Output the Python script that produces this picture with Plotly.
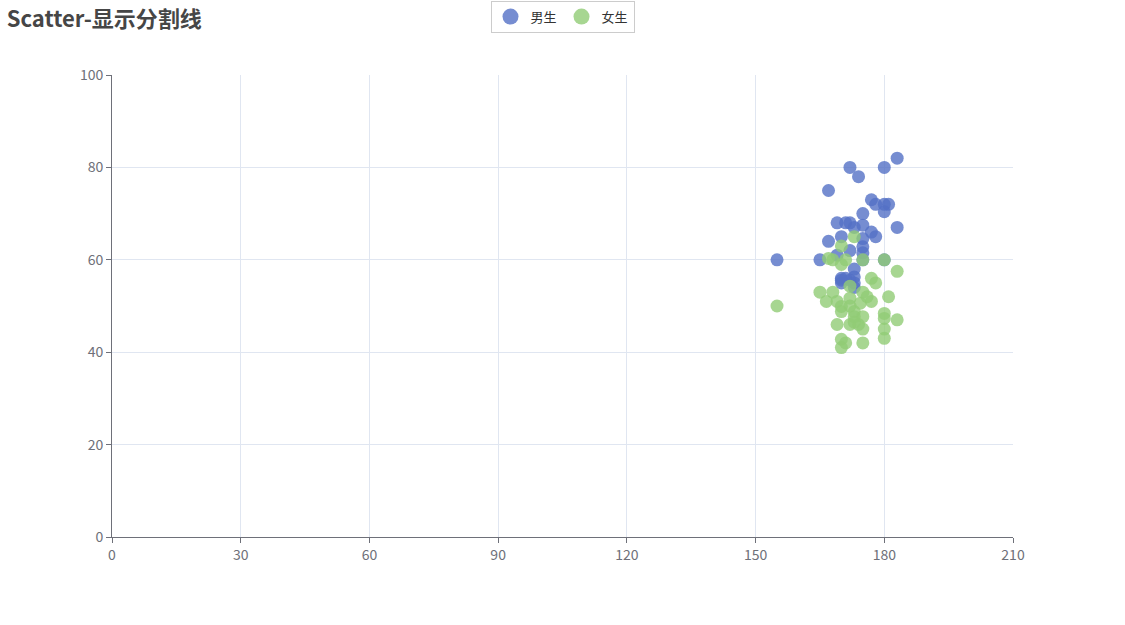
import plotly.graph_objects as go

title_text = "Scatter-显示分割线"
series_names = ["男生", "女生"]
series_colors = ["#5470c6", "#91cc75"]

male_height = [155, 165, 167, 167, 169, 171, 172, 172, 174, 180, 183, 175, 177, 178, 180, 181, 180,
               173, 175, 183, 177, 178, 170, 175, 175, 175, 172, 173, 173, 170, 172, 170, 173, 175, 180,
               169, 171, 173, 170]
male_weight = [60, 60, 75, 64, 68, 68, 68, 80, 78, 80, 82, 70, 73, 72, 72, 72, 70.4,
               67, 67.5, 67, 66, 65, 65, 64.6, 62.8, 61.5, 62, 58, 56.3, 55.6, 55.6, 55, 54, 60, 60,
               61, 56, 55, 56]

female_height = [155, 183, 165, 168, 166.5, 169, 177, 178, 181, 177, 180, 180, 180, 180, 183, 169,
                 170, 171, 170, 175, 175, 172, 174, 172, 175, 172, 170, 170, 173, 173, 175, 174.4,
                 168, 167, 171, 170, 170, 173, 180, 175, 172, 173, 176]
female_weight = [50, 57.5, 53, 53, 51, 51, 56, 55, 52, 51, 48.4, 47.3, 45, 43, 47, 46,
                 42.8, 42, 41, 42, 45, 46, 46, 54.3, 53, 51.7, 48.8, 49.9, 48.8, 47.7, 47.7, 50.6,
                 60, 60.3, 60, 63, 59, 65, 60, 60, 50, 46.5, 52]

x_ticks = [0, 30, 60, 90, 120, 150, 180, 210]
y_ticks = [0, 20, 40, 60, 80, 100]

fig = go.Figure()
for name, color, xs, ys in [(series_names[0], series_colors[0], male_height, male_weight),
                            (series_names[1], series_colors[1], female_height, female_weight)]:
    fig.add_trace(go.Scatter(x=xs, y=ys, mode="markers", name=name, legendgroup=name,
                             showlegend=False,
                             marker=dict(color=color, size=13, opacity=0.8, line=dict(width=0))))
for name, color in zip(series_names, series_colors):
    fig.add_trace(go.Scatter(x=[None], y=[None], mode="markers", name=name, legendgroup=name,
                             marker=dict(color=color, size=18, opacity=0.8, line=dict(width=0))))

axis_common = dict(showgrid=True, gridcolor="#e0e6f1", gridwidth=1, zeroline=False,
                   showline=True, linecolor="#6e7079", linewidth=1, ticks="outside",
                   ticklen=5, tickcolor="#6e7079", tickfont=dict(color="#6e7079", size=14))

fig.update_layout(
    width=1125, height=625,
    margin=dict(l=112, r=112, t=75, b=88),
    paper_bgcolor="white", plot_bgcolor="white",
    font=dict(family="Noto Sans CJK SC, Microsoft YaHei, sans-serif", color="#333"),
    title=dict(text="<b>" + title_text + "</b>", x=0.006, xanchor="left",
               yref="container", y=0.982, yanchor="top",
               font=dict(size=22, color="#464646")),
    legend=dict(orientation="h", x=0.5, xanchor="center", yref="container", y=0.999, yanchor="top",
                bordercolor="#cccccc", borderwidth=1, font=dict(size=13, color="#333"),
                itemsizing="trace"),
    xaxis=dict(range=[0, 210], tickvals=x_ticks, **axis_common),
    yaxis=dict(range=[0, 100], tickvals=y_ticks, **axis_common),
)

fig.write_html("out.html", config={"displayModeBar": False},
               post_script="document.body.style.margin='0';")
